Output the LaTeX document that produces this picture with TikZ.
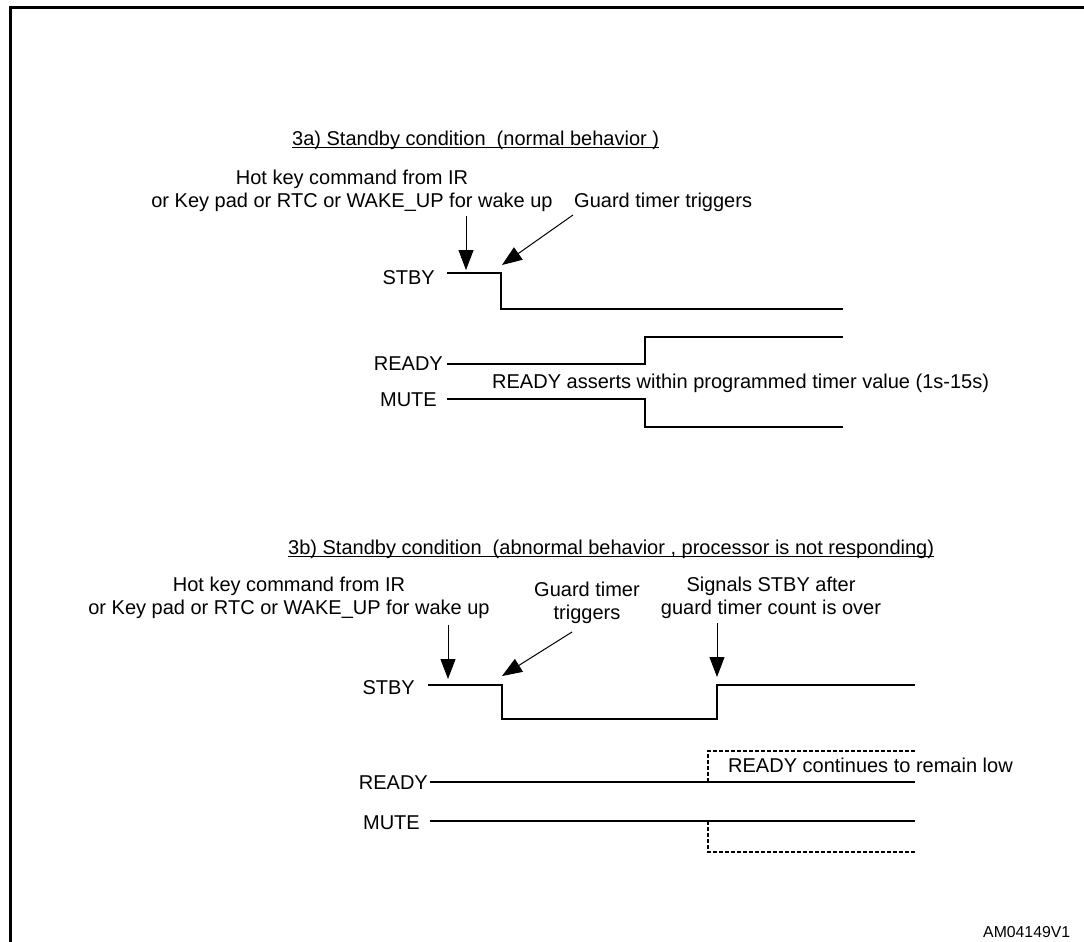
\documentclass[tikz,border=0pt]{standalone}
\usepackage{fontspec}
\setmainfont{Liberation Sans}
\usetikzlibrary{arrows.meta}
\begin{document}
\begin{tikzpicture}[x=1pt,y=-1pt,
    txt/.style={inner sep=0pt,font=\fontsize{20}{23}\selectfont},
    sig/.style={line width=1.1pt},
    stipla/.style={sig,dash pattern=on 4pt off 2pt},
    pil/.style={line width=1pt,-{Triangle[length=20pt,width=15pt]}}]
    \useasboundingbox (0,0) rectangle (1084,942);
    %Ramme
        \draw[line width=3pt] (10,960) -- (10,8) -- (1100,8);

    %3a
        \node[txt,anchor=base west] (tA) at (292,145) {3a) Standby condition \ (normal behavior )};
        \draw[line width=0.8pt] ([yshift=-2pt]tA.base west) -- ([yshift=-2pt]tA.base east);
        \node[txt,anchor=base,align=center] (hkA) at (352,207) {Hot key command from IR\\or Key pad or RTC or WAKE\_UP for wake up};
        \node[txt,anchor=base west] (gtA) at (574,207) {Guard timer triggers};
        \node[txt,anchor=base east] (stbyA) at (435,284) {STBY};
        \node[txt,anchor=base east] (readyA) at (443,370) {READY};
        \node[txt,anchor=base east] (muteA) at (437,406) {MUTE};
        \node[txt,anchor=base west] (asA) at (492,388) {READY asserts within programmed timer value (1s-15s)};

        \draw[sig] (447,273) -- (501,273) -- (501,309) -- (843,309);
        \draw[sig] (447,364) -- (645,364) -- (645,337) -- (843,337);
        \draw[sig] (447,399) -- (645,399) -- (645,427) -- (843,427);

        \coordinate (a1s) at (466,216);
        \coordinate (a1e) at (466,270);
        \coordinate (a2s) at (573,215);
        \coordinate (a2e) at (502,265);
        \draw[pil] (a1s) -- (a1e);
        \draw[pil] (a2s) -- (a2e);

    %3b
        \node[txt,anchor=base west] (tB) at (288,554) {3b) Standby condition \ (abnormal behavior , processor is not responding)};
        \draw[line width=0.8pt] ([yshift=-2pt]tB.base west) -- ([yshift=-2pt]tB.base east);
        \node[txt,anchor=base,align=center] (hkB) at (289,614) {Hot key command from IR\\or Key pad or RTC or WAKE\_UP for wake up};
        \node[txt,anchor=base,align=center] (gtB) at (587,619) {Guard timer\\triggers};
        \node[txt,anchor=base,align=center] (sgB) at (771,614) {Signals STBY after\\guard timer count is over};
        \node[txt,anchor=base east] (stbyB) at (415,694) {STBY};
        \node[txt,anchor=base east] (readyB) at (428,789) {READY};
        \node[txt,anchor=base east] (muteB) at (420,829) {MUTE};
        \node[txt,anchor=base west] (lowB) at (728,772) {READY continues to remain low};

        \draw[sig] (428,685) -- (502,685) -- (502,719) -- (717,719) -- (717,685) -- (915,685);
        \draw[sig] (430,782) -- (915,782);
        \draw[sig] (430,821) -- (915,821);
        \draw[stipla] (708,782) -- (708,751) -- (915,751);
        \draw[stipla] (708,821) -- (708,852) -- (915,852);

        \coordinate (b1s) at (448,625);
        \coordinate (b1e) at (448,679);
        \coordinate (b2s) at (572,632);
        \coordinate (b2e) at (502,676);
        \coordinate (b3s) at (717,623);
        \coordinate (b3e) at (717,677);
        \draw[pil] (b1s) -- (b1e);
        \draw[pil] (b2s) -- (b2e);
        \draw[pil] (b3s) -- (b3e);

        %
        \node[inner sep=0pt,anchor=base west,font=\fontsize{15.8}{18}\selectfont] (am) at (983,937) {AM04149V1};
    \end{tikzpicture}
\end{document}
